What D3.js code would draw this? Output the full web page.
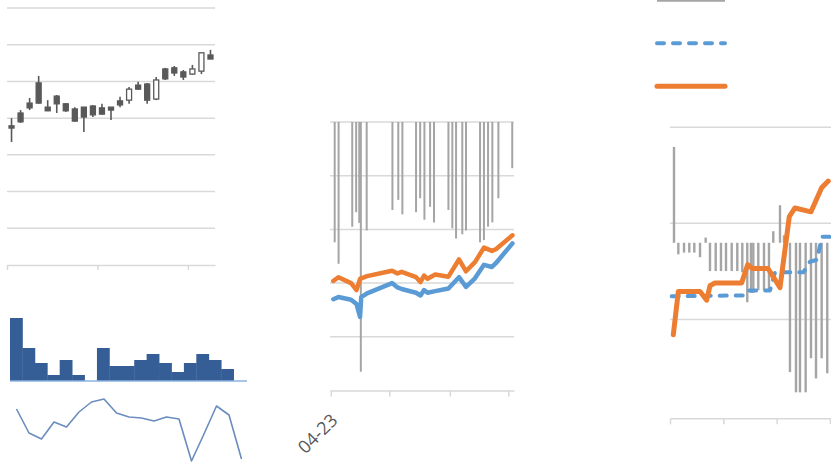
<!DOCTYPE html>
<html><head><meta charset="utf-8">
<script src="https://cdn.jsdelivr.net/npm/d3@7/dist/d3.min.js"></script>
<style>html,body{margin:0;padding:0;background:#fff;overflow:hidden}svg{display:block}</style>
</head><body>
<svg id="c" width="831" height="466"></svg>
<script>
// ---------- DATA ----------
// Panel 1: candlesticks
const candleOpen  = [3.79,4.14,4.41,4.96,4.30,4.60,4.39,4.25,4.30,4.33,4.28,4.30,4.47,4.49,4.90,4.93,4.52,5.34,5.37,5.26,5.20,5.28,5.72];
const candleClose = [3.73,3.90,4.28,4.41,4.20,4.39,4.20,3.92,4.03,4.09,4.11,4.22,4.36,4.79,4.79,4.49,5.04,5.07,5.23,5.12,5.34,5.78,5.61];
const candleLow   = [3.35,3.87,4.22,4.39,4.20,4.14,4.17,3.90,3.62,4.03,4.09,3.95,4.30,4.39,4.77,4.39,4.49,5.04,5.15,5.04,5.18,5.20,5.61];
const candleHigh  = [4.00,4.22,4.55,5.15,4.49,4.63,4.41,4.30,4.30,4.36,4.39,4.30,4.58,4.85,4.99,4.96,5.12,5.37,5.42,5.31,5.45,5.78,5.86];
const candleGrid  = [1,2,3,4,5,6,7];
const candleTicks = [0,10,20];

// Panel 2: histogram
const histValues = [21,11,6,2,7,2,0,11,5,5,7,9,6,3,6,9,7,4,0];

// Panel 3: sparkline
const sparkValues = [52,28,22,39,34,49,59,62,48,44,43,40,44,42,0,27,55,46,2];

// Panel 4: middle combo chart (day offsets from 04-23)
const midBarDay = [2,4,11,13,14.6,15.4,18.4,31.6,34.6,36.7,43.7,45.8,48,50.9,52.9,60.3,62.3,64.2,67.4,69.3,76.5,78.5,80.6,82.8,85.9,93];
const midBarVal = [-2.24,-2.64,-1.95,-1.68,-1.88,-4.65,-2.02,-1.64,-1.45,-1.72,-1.68,-1.42,-1.82,-1.58,-1.87,-1.64,-1.98,-2.17,-2.09,-2.02,-2.24,-2.20,-1.95,-1.87,-1.42,-0.86];
const midLineDay = [1.3,3.9,10.4,13.2,15.0,15.6,18.6,31.4,34.2,36.3,43.7,46.0,47.8,49.6,53.5,60.3,65.7,69.3,73.9,78.5,82.6,84.6,93.1];
const midOrange  = [2.04,2.11,2.00,1.87,2.08,2.09,2.13,2.23,2.18,2.21,2.11,2.02,2.14,2.08,2.16,2.12,2.44,2.22,2.39,2.66,2.60,2.63,2.89];
const midBlue    = [1.70,1.74,1.69,1.61,1.37,1.74,1.81,2.00,1.92,1.89,1.82,1.77,1.87,1.82,1.85,1.90,2.11,1.93,2.09,2.34,2.30,2.37,2.74];
const midGrid = [1,2,3,4,5];
const midTicks = [0,30,61,91];
const midTickLabels = ["04-23"];

// Panel 5: right combo chart
const rBarX   = [0.75,1.56,2.63,3.62,4.56,5.63,6.69,7.5,8.57,9.56,10.5,11.57,12.62,13.56,14.49,15.19,15.62,16.56,17.63,18.56,19.37,20.63,21.38,22.5,23.63,24.38,25.44,26.44,27.38,28.44,29.49];
const rBarVal = [1.66,-0.20,-0.17,-0.17,-0.17,-0.25,0.09,-0.49,-0.49,-0.49,-0.49,-0.49,-0.49,-0.51,-1.03,-0.87,-0.87,-0.82,-0.82,-0.82,0.20,0.65,0.13,-2.24,-2.59,-2.59,-2.59,-2.0,-2.35,-2.0,-2.26];
const rOrangeX   = [0.62,1.56,5.63,6.88,7.5,8.44,13.44,14.57,15.47,18.38,20.63,22.37,23.44,26.44,28.44,29.68];
const rOrangeVal = [0.84,1.29,1.29,1.20,1.35,1.38,1.38,1.57,1.53,1.53,1.33,2.07,2.16,2.12,2.37,2.44];
const rBlueX   = [0.32,14.06,14.68,18.75,19.69,25,26.25,27.56,28.5,30];
const rBlueVal = [1.24,1.25,1.30,1.30,1.49,1.49,1.60,1.62,1.86,1.86];
const rGrid = [1,2,3];
const rTicks = [0,10,20,30];
const legendSeries = ["gray","blue","orange"];

// ---------- STYLE ----------
const GRID = "#d9d9d9", GRAY = "#a5a5a5", BLUE = "#5b9bd5", ORANGE = "#ed7d31", CANDLE = "#595959";
const svg = d3.select("#c");

// ---------- PANEL 1: candlesticks ----------
(function(){
  const g = svg.append("g");
  const x = d3.scaleBand().domain(d3.range(candleOpen.length)).range([7,215]).padding(0);
  const xi = d3.scaleLinear().domain([0,candleOpen.length]).range([7,215]);
  const y = d3.scaleLinear().domain([0,7]).range([265,8]);
  g.selectAll(".grid").data(candleGrid).join("line")
    .attr("x1",7).attr("x2",215).attr("y1",d=>y(d)).attr("y2",d=>y(d))
    .attr("stroke",GRID).attr("stroke-width",1.5);
  const ax = g.append("g").attr("transform",`translate(0,${y(0)})`)
    .call(d3.axisBottom(xi).tickValues(candleTicks).tickSize(5).tickSizeOuter(0).tickFormat(""));
  ax.selectAll("path,line").attr("stroke",GRID).attr("stroke-width",1.5);
  const c = g.selectAll(".candle").data(candleOpen.map((o,i)=>({i,o,c:candleClose[i],l:candleLow[i],h:candleHigh[i]}))).join("g");
  c.append("line").attr("x1",d=>x(d.i)+x.bandwidth()/2).attr("x2",d=>x(d.i)+x.bandwidth()/2)
    .attr("y1",d=>y(d.h)).attr("y2",d=>y(d.l)).attr("stroke",CANDLE).attr("stroke-width",1.6);
  c.append("rect").attr("x",d=>x(d.i)+x.bandwidth()/2-2.5).attr("width",5)
    .attr("y",d=>y(Math.max(d.o,d.c))).attr("height",d=>Math.max(1.5,Math.abs(y(d.o)-y(d.c))))
    .attr("fill",d=>d.c>d.o?"#fff":CANDLE).attr("stroke",CANDLE).attr("stroke-width",1.3);
})();

// ---------- PANEL 2: histogram ----------
(function(){
  const g = svg.append("g");
  const x = d3.scaleBand().domain(d3.range(histValues.length)).range([10,246]).padding(0);
  const y = d3.scaleLinear().domain([0,21]).range([381,318]);
  g.selectAll("rect").data(histValues).join("rect")
    .attr("x",(d,i)=>x(i)).attr("width",x.bandwidth()+0.4)
    .attr("y",d=>y(d)).attr("height",d=>y(0)-y(d)).attr("fill","#365e96");
  g.append("line").attr("x1",10).attr("x2",247).attr("y1",y(0)).attr("y2",y(0))
    .attr("stroke","#8db3e2").attr("stroke-width",1.5);
})();

// ---------- PANEL 3: sparkline ----------
(function(){
  const x = d3.scalePoint().domain(d3.range(sparkValues.length)).range([16.5,241.5]);
  const y = d3.scaleLinear().domain([0,62]).range([461,399]);
  svg.append("path").datum(sparkValues)
    .attr("d",d3.line().x((d,i)=>x(i)).y(d=>y(d)))
    .attr("fill","none").attr("stroke","#6a8cbf").attr("stroke-width",1.6).attr("stroke-linejoin","round");
})();

// ---------- PANEL 4: middle chart ----------
(function(){
  const g = svg.append("g");
  const x = d3.scaleLinear().domain([-0.4,93.9]).range([330,514]);
  const y = d3.scaleLinear().domain([0,5]).range([390.5,122]);
  const y2 = d3.scaleLinear().domain([0,-5]).range([122,390.5]);
  g.selectAll(".grid").data(midGrid).join("line")
    .attr("x1",330).attr("x2",514).attr("y1",d=>y(d)).attr("y2",d=>y(d))
    .attr("stroke",GRID).attr("stroke-width",1.5);
  const ax = g.append("g").attr("transform",`translate(0,${y(0)})`)
    .call(d3.axisBottom(x).tickValues(midTicks).tickSize(6).tickSizeOuter(0).tickFormat(""));
  ax.selectAll("path,line").attr("stroke",GRID).attr("stroke-width",1.5);
  g.selectAll(".lbl").data(midTickLabels).join("text")
    .attr("transform",(d,i)=>`translate(${x(midTicks[i])+8},${y(0)+31}) rotate(-45)`)
    .attr("text-anchor","end").attr("font-family","'Open Sans', sans-serif").attr("font-size",18)
    .attr("fill","#595959").text(d=>d);
  g.selectAll(".bar").data(midBarVal).join("line")
    .attr("x1",(d,i)=>x(midBarDay[i])).attr("x2",(d,i)=>x(midBarDay[i]))
    .attr("y1",y2(0)).attr("y2",d=>y2(d)).attr("stroke",GRAY).attr("stroke-width",2);
  const line = d3.line().x((d,i)=>x(midLineDay[i])).y(d=>y(d));
  g.append("path").datum(midOrange).attr("d",line).attr("fill","none").attr("stroke",ORANGE)
    .attr("stroke-width",4.5).attr("stroke-linejoin","round").attr("stroke-linecap","round");
  g.append("path").datum(midBlue).attr("d",line).attr("fill","none").attr("stroke",BLUE)
    .attr("stroke-width",4.5).attr("stroke-linejoin","round").attr("stroke-linecap","round");
})();

// ---------- PANEL 5: right chart ----------
(function(){
  const g = svg.append("g");
  const x = d3.scaleLinear().domain([0,31]).range([670,835.3]);
  const y = d3.scaleLinear().domain([-0.03,3]).range([418.3,127.3]);
  const y2 = d3.scaleLinear().domain([-3,2]).range([416,127.3]);
  g.selectAll(".grid").data(rGrid).join("line")
    .attr("x1",670).attr("x2",840).attr("y1",d=>y(d)).attr("y2",d=>y(d))
    .attr("stroke",GRID).attr("stroke-width",1.5);
  const ax = g.append("g").attr("transform",`translate(0,${y(-0.03)})`)
    .call(d3.axisBottom(x).tickValues(rTicks).tickSize(6).tickSizeOuter(0).tickFormat(""));
  ax.selectAll("path,line").attr("stroke",GRID).attr("stroke-width",1.5);
  g.selectAll(".bar").data(rBarVal).join("line")
    .attr("x1",(d,i)=>x(rBarX[i])).attr("x2",(d,i)=>x(rBarX[i]))
    .attr("y1",y2(0)).attr("y2",d=>y2(d)).attr("stroke",GRAY).attr("stroke-width",2.4);
  g.append("path").datum(rBlueVal).attr("d",d3.line().x((d,i)=>x(rBlueX[i])).y(d=>y(d)))
    .attr("fill","none").attr("stroke",BLUE).attr("stroke-width",4).attr("stroke-dasharray","7,9")
    .attr("stroke-linecap","round").attr("stroke-linejoin","round");
  g.append("path").datum(rOrangeVal).attr("d",d3.line().x((d,i)=>x(rOrangeX[i])).y(d=>y(d)))
    .attr("fill","none").attr("stroke",ORANGE).attr("stroke-width",5)
    .attr("stroke-linecap","round").attr("stroke-linejoin","round");
  // legend samples
  const ly = d3.scalePoint().domain(legendSeries).range([0,86.3]);
  const leg = g.selectAll(".leg").data(legendSeries).join("line")
    .attr("x1",657).attr("x2",725).attr("y1",d=>ly(d)).attr("y2",d=>ly(d));
  leg.filter(d=>d==="gray").attr("stroke",GRAY).attr("stroke-width",3.4);
  leg.filter(d=>d==="blue").attr("stroke",BLUE).attr("stroke-width",4).attr("stroke-dasharray","7,9").attr("stroke-linecap","round");
  leg.filter(d=>d==="orange").attr("stroke",ORANGE).attr("stroke-width",5).attr("stroke-linecap","round");
})();
</script>
</body></html>
